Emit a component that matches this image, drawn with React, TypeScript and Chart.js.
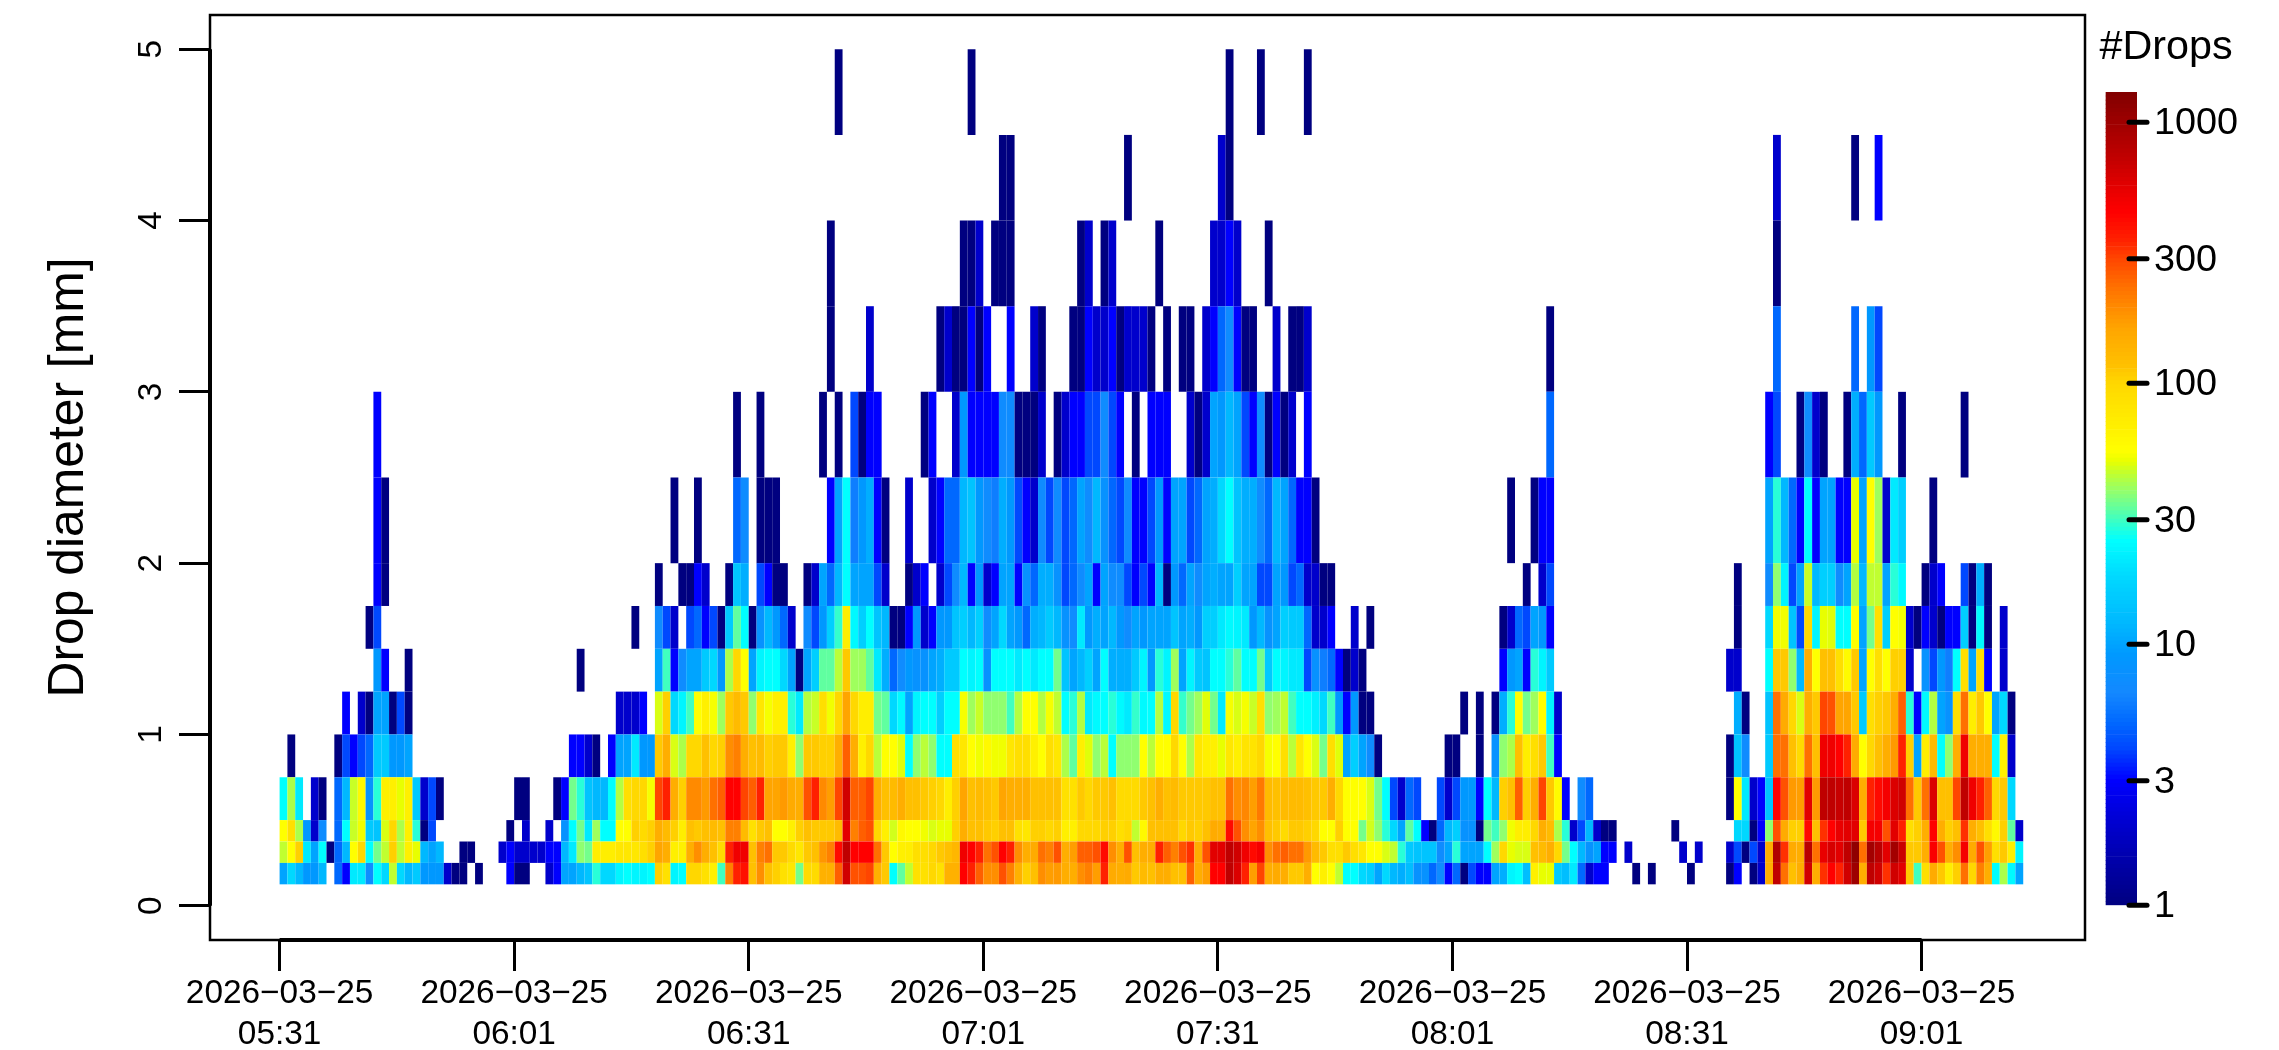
import React, { useEffect, useRef } from "react";
import { Chart, registerables } from "chart.js";

Chart.register(...registerables);

// Drop counts per minute (one value per minute from 05:31) for each diameter class.
const d012_025 = [
  10,18,12,9,9,12,0,5,3,21, 21,7,25,18,45,18,12,15,9,9, 9,2,1,1,0,1,0,0,0,3, 1,1,0,0,2,3,10,10,12,14,
  28,18,18,23,25,23,23,25,105,85, 23,25,100,100,85,68,30,210,355,400, 117,190,117,105,85,78,35,94,94,140,
  140,258,650,280,280,300,140,110,25,33, 45,85,85,98,85,140,140,450,355,258, 190,190,280,210,140,105,117,190,170,175,
  145,145,190,210,170,355,150,145,150,110, 125,117,145,145,117,117,258,145,170,450, 450,741,600,355,170,300,145,150,145,110,
  110,145,55,68,55,45,25,25,18,16, 10,18,12,11,13,8,8,5,7,3, 5,1,4,3,3,10,11,23,25,13,
  68,50,50,15,13,21,5,2,3,3, 0,0,0,1,0,1,0,0,0,0, 1,0,0,0,0,1,3,0,1,2,
  145,741,234,117,145,650,145,330,450,355, 650,1000,145,741,650,330,650,570,110,30, 88,150,110,70,105,234,98,210,145,25, 42,24,10,
];
const d025_037 = [
  45,55,105,21,10,25,1,5,12,55, 98,25,35,45,105,45,68,50,12,10, 12,0,0,1,1,0,0,0,2,3, 2,2,2,2,3,3,12,21,38,35,
  70,70,70,78,78,78,88,105,162,145, 68,68,145,190,145,117,94,355,513,513, 117,210,234,110,110,94,78,110,117,180,
  210,420,741,450,450,450,234,110,55,68, 70,88,88,98,110,117,130,513,450,355, 234,280,450,355,190,145,150,234,210,280,
  145,170,258,258,280,420,190,145,280,117, 145,145,355,258,210,280,330,145,280,570, 570,741,650,513,420,490,190,234,258,234,
  234,175,125,110,88,88,110,88,78,55, 55,48,45,28,15,14,14,14,7,10, 28,10,10,10,25,40,98,50,48,48,
  117,125,145,98,35,25,12,8,10,3, 3,0,2,0,0,0,0,0,0,2, 0,2,0,0,0,2,4,1,4,2,
  145,850,330,150,145,780,234,540,620,570, 741,1130,234,950,780,570,950,680,110,110, 145,470,280,145,190,490,150,280,170,88, 110,68,23,
];
const d037_050 = [
  55,88,42,9,2,7,0,5,25,46, 52,15,14,48,98,42,68,28,1,4, 0,0,0,0,0,0,0,0,0,1, 0,2,0,0,2,0,8,25,35,21,
  40,25,25,55,55,105,94,105,145,125, 105,70,117,110,117,125,117,210,210,125, 85,110,117,55,55,68,105,117,110,110,
  110,125,560,210,258,280,98,68,47,60, 55,55,52,48,50,50,105,145,117,117, 110,105,117,117,85,78,105,105,98,105,
  68,68,98,98,98,105,105,88,98,45, 60,117,117,117,117,98,110,105,117,150, 145,420,280,190,162,190,117,110,94,110,
  110,105,98,55,55,105,55,55,35,47, 38,28,18,10,33,25,3,1,5,12, 16,8,8,1,35,30,38,52,70,70,
  98,145,125,42,28,2,4,12,2,1, 1,0,0,0,0,0,0,0,1,0, 0,0,0,0,0,0,18,18,1,3,
  38,280,150,105,105,420,117,330,450,540, 570,570,110,490,490,280,570,355,88,105, 145,450,145,105,117,330,145,117,88,60, 105,33,2,
];
const d050_075 = [
  25,42,21,0,2,1,0,5,12,46, 60,8,28,68,68,50,68,15,2,4, 1,0,0,0,0,0,0,0,0,0, 1,1,0,0,0,1,3,35,28,14,
  12,12,25,43,88,98,98,53,300,355, 145,105,195,195,175,234,258,450,450,300, 258,355,162,162,175,150,145,280,355,195,
  170,300,650,258,258,300,145,117,125,145, 117,117,110,105,98,70,105,162,117,125, 117,110,162,145,145,145,117,117,117,117,
  85,85,110,98,110,110,117,94,94,94, 110,117,145,117,125,110,110,110,110,117, 117,234,190,200,170,220,125,117,125,125,
  125,117,110,110,145,98,55,55,55,48, 35,25,4,2,5,4,0,0,4,2, 4,9,9,3,25,12,105,117,258,105,
  145,300,110,58,3,0,7,5,0,0, 0,0,0,0,0,0,0,0,0,0, 0,0,0,0,0,1,55,21,2,3,
  14,450,280,175,170,570,175,741,741,700, 741,600,145,355,420,490,600,650,234,110, 234,600,117,117,300,741,513,355,258,98, 110,18,0,
];
const d075_100 = [
  0,1,0,0,0,0,0,1,4,3, 4,5,15,15,9,9,10,0,0,0, 0,0,0,0,0,0,0,0,0,0, 0,0,0,0,0,0,0,3,3,2,
  1,0,3,10,10,21,9,9,110,145, 48,42,98,98,117,98,105,190,210,145, 117,125,105,110,110,68,38,110,110,105,
  105,145,258,145,68,98,44,55,55,49, 25,38,44,38,25,25,88,78,55,52, 60,52,52,78,88,88,68,55,88,78,
  42,33,68,49,38,44,25,38,38,38, 55,44,55,55,98,55,42,78,68,68, 50,78,68,82,82,98,53,55,88,44,
  78,55,48,35,88,49,10,16,10,7, 1,0,0,0,0,0,0,0,0,1, 1,0,0,1,0,8,38,42,117,70,
  88,110,30,3,0,0,0,0,0,0, 0,0,0,0,0,0,0,0,0,0, 0,0,0,0,0,1,14,7,0,0,
  15,234,234,117,94,234,117,513,513,450, 355,150,55,98,117,145,175,355,105,10, 70,125,25,38,145,513,145,145,145,25, 68,2,0,
];
const d100_125 = [
  0,0,0,0,0,0,0,0,3,0, 2,1,10,10,1,4,1,0,0,0, 0,0,0,0,0,0,0,0,0,0, 0,0,0,0,0,0,0,0,0,0,
  0,0,0,2,2,2,3,0,48,105, 18,23,30,55,68,53,40,110,125,110, 38,78,53,68,68,28,21,43,46,88,
  52,98,162,98,70,70,35,33,18,24, 10,23,25,25,16,25,25,53,40,46, 38,38,38,30,43,55,55,43,53,45,
  25,28,43,21,24,25,28,24,21,29, 24,25,43,24,98,29,35,40,49,35, 21,53,48,53,46,88,38,40,45,30,
  25,25,22,18,30,9,3,9,1,1, 0,0,0,0,0,0,0,0,0,0, 0,1,0,1,0,1,11,28,55,35,
  40,55,23,2,0,0,0,0,0,0, 0,0,0,0,0,0,0,0,0,0, 0,0,0,0,0,0,11,1,0,0,
  14,234,150,98,48,145,110,300,280,162, 162,110,15,88,105,110,145,258,28,3, 24,43,10,8,88,234,70,110,55,10, 18,1,0,
];
const d125_150 = [
  0,0,0,0,0,0,0,0,0,0, 0,0,9,3,0,0,1,0,0,0, 0,0,0,0,0,0,0,0,0,0, 0,0,0,0,0,0,0,0,1,0,
  0,0,0,0,0,0,0,0,10,30, 3,7,10,10,15,18,9,42,98,55, 10,23,25,25,18,10,1,10,16,33,
  33,44,110,40,40,33,21,11,5,7, 9,8,8,10,11,15,15,25,23,25, 8,25,25,25,21,25,21,25,25,35,
  14,10,12,16,10,25,11,11,11,15, 23,9,28,23,40,10,23,15,14,25, 25,28,33,25,25,35,15,25,23,21,
  21,4,8,6,5,3,1,2,1,0, 0,0,0,0,0,0,0,0,0,0, 0,0,0,0,0,0,3,9,10,3,
  28,23,15,0,0,0,0,0,0,0, 0,0,0,0,0,0,0,0,0,0, 0,0,0,0,0,2,2,0,0,0,
  25,110,110,38,12,145,55,117,117,88, 58,110,10,55,88,55,105,105,2,0, 8,4,9,6,25,88,10,88,3,0, 2,0,0,
];
const d150_175 = [
  0,0,0,0,0,0,0,0,0,0, 0,1,4,0,0,0,0,0,0,0, 0,0,0,0,0,0,0,0,0,0, 0,0,0,0,0,0,0,0,0,0,
  0,0,0,0,0,1,0,0,7,4, 2,0,4,5,3,4,1,15,33,25, 1,8,12,9,5,2,0,7,4,9,
  16,29,70,24,16,25,14,12,1,1, 3,9,2,3,9,9,14,16,12,16, 7,10,18,10,9,5,11,12,15,12,
  8,7,21,9,11,10,12,9,7,10, 9,10,10,10,14,10,11,9,16,16, 21,24,23,21,9,12,8,10,16,15,
  15,5,2,2,3,0,0,2,0,1, 0,0,0,0,0,0,0,0,0,0, 0,0,0,0,0,0,1,2,5,4,
  10,9,3,0,0,0,0,0,0,0, 0,0,0,0,0,0,0,0,0,0, 0,0,0,0,0,0,1,0,0,0,
  18,52,52,14,4,98,23,50,49,25, 25,55,10,35,88,16,55,53,2,1, 3,2,1,3,3,16,1,24,1,0, 2,0,0,
];
const d175_200 = [
  0,0,0,0,0,0,0,0,0,0, 0,0,3,1,0,0,0,0,0,0, 0,0,0,0,0,0,0,0,0,0, 0,0,0,0,0,0,0,0,0,0,
  0,0,0,0,0,0,0,0,1,0, 0,1,1,3,2,0,0,1,14,11, 0,4,3,1,1,0,0,1,2,10,
  5,12,25,10,10,10,4,2,0,0, 1,2,3,0,2,4,7,12,3,9, 2,3,10,10,3,8,5,11,11,8,
  4,5,7,10,3,10,7,7,4,3, 4,3,12,1,9,5,10,7,10,11, 10,10,16,10,10,4,4,10,9,4,
  5,2,2,1,1,0,0,0,0,0, 0,0,0,0,0,0,0,0,0,0, 0,0,0,0,0,0,0,0,0,1,
  0,2,4,0,0,0,0,0,0,0, 0,0,0,0,0,0,0,0,0,0, 0,0,0,0,0,0,1,0,0,0,
  7,38,23,4,10,46,12,16,16,7, 10,43,12,45,45,10,28,24,0,0, 1,2,3,0,0,4,1,11,1,0, 0,0,0,
];
// The larger classes are sparse: minute index and count.
const d200_250_min = [12,13,50,53,58,59,61,62,63,70,71,72,73,74,75,76,77,80,83,84,85,86,87,88,89,90,91,92,93,94,95,96,97,98,99,100,101,102,103,104,105,106,107,108,109,110,111,112,113,114,115,116,117,118,119,120,121,122,123,124,125,126,127,128,129,130,131,132,157,160,161,162,190,191,192,193,194,195,196,197,198,199,200,201,202,203,204,205,206,207,211];
const d200_250_n = [3,1,1,1,5,7,1,1,1,3,10,25,6,9,11,3,1,2,2,3,5,5,12,14,9,7,6,11,9,4,3,2,7,4,7,4,5,10,7,12,8,5,4,7,3,3,4,9,3,10,10,4,5,10,11,18,25,14,11,11,7,5,12,10,5,3,3,1,1,1,3,3,10,28,12,5,3,25,3,10,10,3,3,50,10,55,40,2,21,16,1];
const d250_300_min = [12,58,61,69,71,73,74,75,76,82,83,86,87,88,89,90,91,92,93,94,95,96,97,99,100,101,102,103,104,105,106,107,109,111,112,113,116,117,118,119,120,121,122,123,124,125,126,127,128,129,131,162,190,191,194,195,196,197,200,201,202,203,204,207,215];
const d250_300_n = [3,1,1,1,1,4,1,3,3,1,3,2,9,3,3,3,3,7,7,1,1,1,2,1,2,3,3,4,4,7,4,3,1,3,3,3,2,1,2,10,9,12,10,4,3,7,1,3,1,2,3,5,3,4,1,7,2,1,1,11,5,15,9,1,1];
const d300_350_min = [70,75,84,85,86,87,88,89,90,93,96,97,101,102,103,104,105,106,107,108,109,110,111,113,115,116,118,119,120,121,122,123,124,127,129,130,131,162,191,201,203,204];
const d300_350_n = [1,2,1,2,1,1,3,1,3,3,2,1,1,1,3,2,2,3,1,2,2,2,1,1,1,1,2,3,5,7,3,1,1,2,1,1,2,1,5,5,9,4];
const d350_400_min = [70,87,88,89,91,92,93,102,103,105,106,112,119,120,121,122,126,191];
const d350_400_n = [1,1,1,2,1,1,1,1,2,1,2,1,2,2,3,2,1,1];
const d400_450_min = [92,93,108,120,121,191,201,204];
const d400_450_n = [1,1,1,2,1,2,1,3];
const d450_500_min = [71,88,121,125,131];
const d450_500_n = [1,1,1,1,1];

const classEdges = [0.125,0.25,0.375,0.5,0.75,1,1.25,1.5,1.75,2,2.5,3,3.5,4,4.5,5];
const denseRows = [d012_025,d025_037,d037_050,d050_075,d075_100,d100_125,d125_150,d150_175,d175_200];
const sparseRows = [
  [d200_250_min,d200_250_n],[d250_300_min,d250_300_n],[d300_350_min,d300_350_n],
  [d350_400_min,d350_400_n],[d400_450_min,d400_450_n],[d450_500_min,d450_500_n],
];
const tickMinutes = [0,30,60,90,120,150,180,210];
const tickDates = ["2026\u221203\u221225","2026\u221203\u221225","2026\u221203\u221225","2026\u221203\u221225","2026\u221203\u221225","2026\u221203\u221225","2026\u221203\u221225","2026\u221203\u221225"];
const tickTimes = ["05:31","06:01","06:31","07:01","07:31","08:01","08:31","09:01"];
const yTicks = [0,1,2,3,4,5];
const barTicks = [1,3,10,30,100,300,1000];

// colour ramp: count at each stop and its colour
const rampCounts = [1,2,3,4,5,6.5,9,12,18,25,30,38,45,50,55,70,100,117,162,234,300,355,450,513,741,1306];
const rampColors = ["#000080","#0000cc","#0000ff","#0048ff","#0068ff","#1488ff","#0098ff","#00b8ff","#00d8ff","#00ffff","#40ffc0","#90ff70","#c0ff30","#e8ff00","#ffff00","#ffee00","#ffd700","#ffc000","#ffa500","#ff7000","#ff4500","#ff2000","#ff0000","#f00000","#bf0000","#800000"];
const FONT = "'Liberation Sans', Arial, sans-serif";

function hexToRgb(h: string) {
  return [1, 3, 5].map((i) => parseInt(h.slice(i, i + 2), 16));
}
function colorFor(v: number) {
  const lv = Math.log10(Math.max(v, 1));
  for (let i = 1; i < rampCounts.length; i++) {
    if (v <= rampCounts[i]) {
      const a = Math.log10(rampCounts[i - 1]);
      const b = Math.log10(rampCounts[i]);
      const t = (lv - a) / (b - a);
      const c0 = hexToRgb(rampColors[i - 1]);
      const c1 = hexToRgb(rampColors[i]);
      const c = c0.map((x, k) => Math.round(x + (c1[k] - x) * t));
      return `rgb(${c[0]},${c[1]},${c[2]})`;
    }
  }
  return rampColors[rampColors.length - 1];
}

function rowDataset(rowIndex: number, minutes: number[], counts: number[]) {
  const lo = classEdges[rowIndex];
  const hi = classEdges[rowIndex + 1];
  const data: any[] = [];
  const colors: string[] = [];
  minutes.forEach((m, i) => {
    if (counts[i] > 0) {
      data.push({ x: m + 0.5, y: [lo, hi] });
      colors.push(colorFor(counts[i]));
    }
  });
  return {
    data,
    backgroundColor: colors,
    grouped: false,
    barPercentage: 1,
    categoryPercentage: 1,
    borderWidth: 0,
    inflateAmount: 0,
  };
}

export default function App() {
  const mainRef = useRef<HTMLCanvasElement>(null);
  const barRef = useRef<HTMLCanvasElement>(null);

  useEffect(() => {
    const datasets: any[] = [];
    denseRows.forEach((row, r) => {
      datasets.push(rowDataset(r, row.map((_, i) => i), row));
    });
    sparseRows.forEach(([mins, counts], k) => {
      datasets.push(rowDataset(denseRows.length + k, mins, counts));
    });

    const frame = {
      id: "frame",
      afterDraw(chart: any) {
        const { ctx, chartArea: a, scales } = chart;
        ctx.save();
        ctx.strokeStyle = "#000";
        ctx.lineWidth = 2.5;
        ctx.strokeRect(a.left, a.top, a.right - a.left, a.bottom - a.top);
        ctx.lineWidth = 4;
        ctx.lineCap = "butt";
        ctx.beginPath();
        ctx.moveTo(a.left, scales.y.getPixelForValue(yTicks[0]));
        ctx.lineTo(a.left, scales.y.getPixelForValue(yTicks[yTicks.length - 1]));
        ctx.moveTo(scales.x.getPixelForValue(tickMinutes[0]), a.bottom);
        ctx.lineTo(scales.x.getPixelForValue(tickMinutes[tickMinutes.length - 1]), a.bottom);
        ctx.stroke();
        ctx.restore();
      },
    };

    const main = new Chart(mainRef.current!, {
      type: "bar",
      data: { datasets },
      plugins: [frame],
      options: {
        animation: false,
        responsive: false,
        events: [],
        layout: { padding: { left: 0, top: 15, right: 194, bottom: 0 } },
        plugins: { legend: { display: false }, tooltip: { enabled: false }, title: { display: false } },
        scales: {
          x: {
            type: "linear",
            offset: false,
            min: -8.9,
            max: 230.9,
            grid: { offset: false, drawOnChartArea: false, tickLength: 31, tickWidth: 3, tickColor: "#000" },
            border: { display: false },
            afterBuildTicks: (s: any) => {
              s.ticks = tickMinutes.map((value) => ({ value }));
            },
            afterFit: (s: any) => {
              s.height = 110;
              s.paddingLeft = 0;
              s.paddingRight = 0;
            },
            ticks: {
              autoSkip: false,
              maxRotation: 0,
              minRotation: 0,
              padding: 2.5,
              color: "#000",
              font: { family: FONT, size: 33.4, lineHeight: 1.22 },
              callback: (v: any) => {
                const i = tickMinutes.indexOf(v);
                return [tickDates[i], tickTimes[i]];
              },
            },
          },
          y: {
            type: "linear",
            min: -0.2,
            max: 5.2,
            grid: { drawOnChartArea: false, tickLength: 31, tickWidth: 3, tickColor: "#000" },
            border: { display: false },
            afterBuildTicks: (s: any) => {
              s.ticks = yTicks.map((value) => ({ value }));
            },
            afterFit: (s: any) => {
              s.width = 210;
              s.paddingTop = 0;
              s.paddingBottom = 0;
            },
            ticks: {
              minRotation: 90,
              maxRotation: 90,
              crossAlign: "center",
              padding: 18,
              color: "#000",
              font: { family: FONT, size: 33.4 },
            },
            title: {
              display: true,
              text: "Drop diameter [mm]",
              color: "#000",
              font: { family: FONT, size: 49.8, lineHeight: 1.2 },
              padding: { top: 39.5, bottom: 0 },
            },
          },
        },
      } as any,
    });

    // Colour bar: one floating bar per ramp step on a log count axis.
    const levels: number[] = [];
    const steps = 200;
    const top = rampCounts[rampCounts.length - 1];
    for (let i = 0; i <= steps; i++) levels.push(Math.pow(top, i / steps));
    const barSets = levels.slice(0, -1).map((lo, i) => ({
      data: [{ x: 0.696, y: [lo, levels[i + 1]] }],
      backgroundColor: colorFor(Math.sqrt(lo * levels[i + 1])),
      grouped: false,
      barThickness: 31,
      borderWidth: 0,
    }));
    const barTickMarks = {
      id: "barTickMarks",
      afterDraw(chart: any) {
        const { ctx, scales, chartArea: a } = chart;
        ctx.save();
        ctx.strokeStyle = "#000";
        ctx.lineWidth = 5;
        ctx.lineCap = "round";
        barTicks.forEach((t) => {
          const y = scales.y.getPixelForValue(t);
          ctx.beginPath();
          ctx.moveTo(a.right - 8, y);
          ctx.lineTo(a.right + 10, y);
          ctx.stroke();
        });
        ctx.restore();
      },
    };
    const bar = new Chart(barRef.current!, {
      type: "bar",
      data: { datasets: barSets },
      plugins: [barTickMarks],
      options: {
        animation: false,
        responsive: false,
        events: [],
        layout: { padding: { left: 0, top: 0, right: 0, bottom: 144.7 } },
        plugins: {
          legend: { display: false },
          tooltip: { enabled: false },
          title: {
            display: true,
            text: "#Drops",
            color: "#000",
            font: { family: FONT, size: 41.3, weight: "normal", lineHeight: 1.2 },
            padding: { top: 22.7, bottom: 19.7 },
          },
        },
        scales: {
          x: { type: "linear", display: false, offset: false, min: 0, max: 1 },
          y: {
            type: "logarithmic",
            position: "right",
            min: 1,
            max: top,
            grid: { drawOnChartArea: false, drawTicks: false },
            border: { display: false },
            afterBuildTicks: (s: any) => {
              s.ticks = barTicks.map((value) => ({ value }));
            },
            afterFit: (s: any) => {
              s.width = 109;
              s.paddingTop = 0;
              s.paddingBottom = 0;
            },
            ticks: {
              autoSkip: false,
              padding: 17,
              labelOffset: 1.5,
              color: "#000",
              font: { family: FONT, size: 37.8 },
              callback: (v: any) => String(v),
            },
          },
        },
      } as any,
    });

    return () => {
      main.destroy();
      bar.destroy();
    };
  }, []);

  return (
    <div style={{ position: "absolute", left: 0, top: 0, width: 2279, height: 1050, overflow: "hidden", background: "#fff" }}>
      <canvas ref={mainRef} width={2279} height={1050} style={{ position: "absolute", left: 0, top: 0, width: 2279, height: 1050 }} />
      <canvas ref={barRef} width={160} height={1050} style={{ position: "absolute", left: 2086, top: 0, width: 160, height: 1050 }} />
    </div>
  );
}
